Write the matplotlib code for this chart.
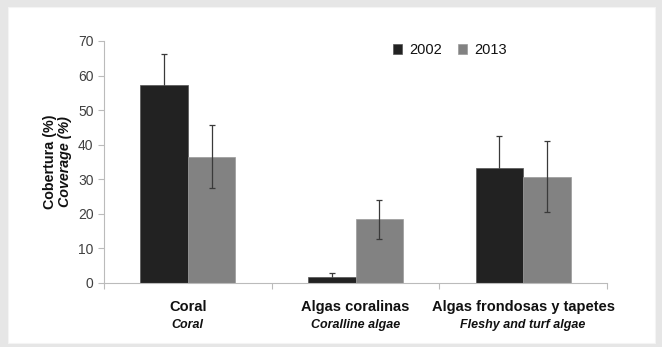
import numpy as np
import matplotlib.pyplot as plt
from matplotlib.patches import Rectangle

plt.rcParams['font.family'] = ['Liberation Sans', 'DejaVu Sans']

categorias = ['Coral', 'Algas coralinas', 'Algas frondosas y tapetes']
categories = ['Coral', 'Coralline algae', 'Fleshy and turf algae']
anios = ['2002', '2013']
cob_2002 = [57.2, 1.8, 33.2]
err_2002 = [9.0, 1.1, 9.2]
cob_2013 = [36.5, 18.4, 30.7]
err_2013 = [9.1, 5.7, 10.3]

fig = plt.figure(figsize=(6.62, 3.47), dpi=100)
fig.patch.set_facecolor('#e6e6e6')
# white panel inside the grey frame
fig.patches.append(Rectangle((8/662, 1 - 343/347), (655-8)/662, (343-7)/347,
                             transform=fig.transFigure, facecolor='white',
                             edgecolor='#f4f4f4', lw=0.8, zorder=-10))

ax = fig.add_axes([104/662, 1 - 283/347, (607-104)/662, (283-41)/347])
ax.patch.set_alpha(0)

x = np.arange(len(categorias))
w = 0.283
ekw = dict(ecolor='#3a3a3a', elinewidth=0.9, capsize=2.5, capthick=0.9, fmt='none')
# 2002 error bars sit behind the dark bars (lower whisker hidden, as in Excel)
ax.errorbar(x - w/2, cob_2002, yerr=err_2002, zorder=0.5, **ekw)
ax.bar(x - w/2, cob_2002, w, color='#222222', edgecolor='#555555',
       linewidth=0.5, label=anios[0], zorder=1)
ax.bar(x + w/2, cob_2013, w, color='#828282', edgecolor='#9a9a9a',
       linewidth=0.5, label=anios[1], zorder=1)
ax.errorbar(x + w/2, cob_2013, yerr=err_2013, zorder=2, **ekw)

ax.set_xlim(-0.5, 2.5)
ax.set_ylim(0, 70)
ax.set_yticks(range(0, 71, 10))
ax.tick_params(axis='y', labelsize=10, labelcolor='#404040', color='#bbbbbb',
               length=4, width=0.8)
ax.set_xticks([-0.5, 0.5, 1.5, 2.5])
ax.set_xticklabels([])
ax.tick_params(axis='x', color='#bbbbbb', length=4, width=0.8)

for s in ['top', 'right']:
    ax.spines[s].set_visible(False)
for s in ['left', 'bottom']:
    ax.spines[s].set_color('#bbbbbb')
    ax.spines[s].set_linewidth(0.8)

for i in range(len(categorias)):
    ax.text(x[i], -6.9, categorias[i], ha='center', va='center', fontsize=10.5,
            fontweight='bold', color='#111111')
    ax.text(x[i], -12.1, categories[i], ha='center', va='center', fontsize=9,
            fontweight='bold', style='italic', color='#111111')

fig.text(50/662, 1 - 162/347, 'Cobertura (%)', rotation=90, ha='center', va='center',
         fontsize=10.3, fontweight='bold', color='#111111')
fig.text(65/662, 1 - 162/347, 'Coverage (%)', rotation=90, ha='center', va='center',
         fontsize=10.3, fontweight='bold', style='italic', color='#111111')

fig.legend(loc='center left', bbox_to_anchor=(393/662, 1 - 50/347), ncol=2,
           frameon=False, borderpad=0, borderaxespad=0,
           fontsize=10.5, handlelength=0.65, handleheight=0.65, handletextpad=0.45,
           columnspacing=1.1, labelcolor='#111111')

fig.savefig('out.png', dpi=100, facecolor=fig.get_facecolor())
